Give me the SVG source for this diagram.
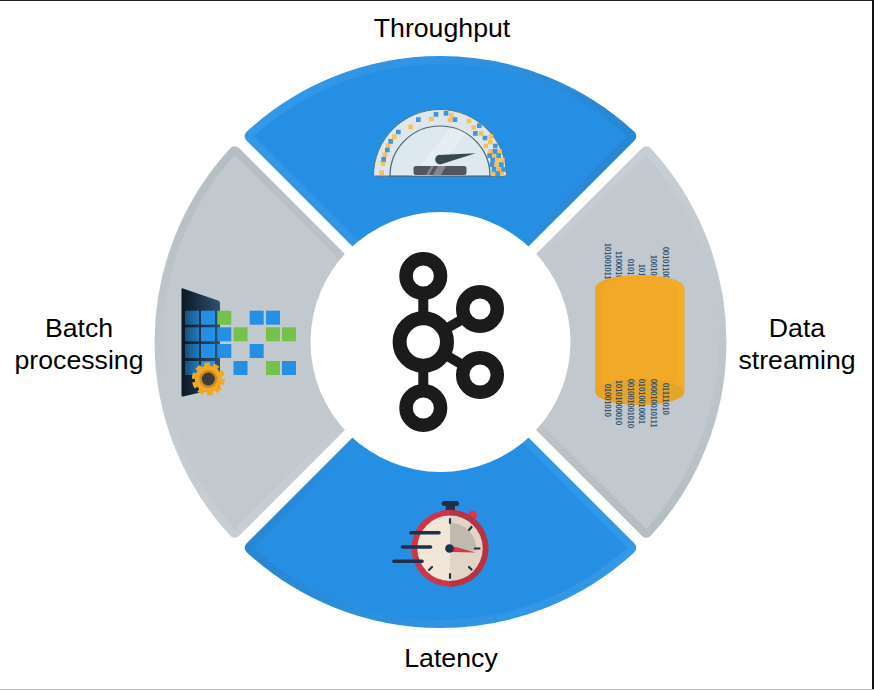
<svg xmlns="http://www.w3.org/2000/svg" width="874" height="690" viewBox="0 0 874 690">
<style>
.lbl{font-family:"Liberation Sans",Arial,sans-serif;font-size:26.7px;fill:#000;text-anchor:middle}
.bin{font-family:"Liberation Serif","Times New Roman",serif;font-size:8.2px;fill:#24466b;stroke:#24466b;stroke-width:.25}
.b{fill:#2590e3}.g{fill:#74c14c}.d{fill:url(#dim)}
.bar{stroke:#1b1b1b;stroke-width:10}
.speed{stroke:#1f3049;stroke-width:3.6;stroke-linecap:round}
.tick{stroke:#1f3049;stroke-width:2.2;stroke-linecap:round}
</style>
<defs>
<path id="rim" d="M440.5 326L250.700 136.200A280 280 0 0 1 630.300 136.200Z" stroke-width="12" stroke-linejoin="round"/>
<path id="core" d="M440.5 323.2L253.6 136.3A278 278 0 0 1 627.4 136.3Z"/>
<linearGradient id="blueRim" gradientUnits="userSpaceOnUse" x1="245" x2="636" y1="0" y2="0"><stop offset="0" stop-color="#3498e7"/><stop offset=".5" stop-color="#2f94e4"/><stop offset="1" stop-color="#2886d2"/></linearGradient>
<linearGradient id="grayRim" gradientUnits="userSpaceOnUse" x1="245" x2="636" y1="0" y2="0"><stop offset="0" stop-color="#c8cfd4"/><stop offset=".5" stop-color="#bfc7cc"/><stop offset="1" stop-color="#b3bdc2"/></linearGradient>
<linearGradient id="panel" x1="0" x2="1" y1="0" y2="0"><stop offset="0" stop-color="#0b1723"/><stop offset="1" stop-color="#2d5274"/></linearGradient>
<linearGradient id="dim" x1="0" x2="1" y1="0" y2="0"><stop offset="0" stop-color="#17507c"/><stop offset="1" stop-color="#1f7cc4"/></linearGradient>
<clipPath id="gaugeClip"><path d="M390 176A50 50 0 0 1 490 176Z"/></clipPath>
</defs>
<rect width="874" height="690" fill="#fff"/>
<g id="frame">
<rect x="0" y="0" width="874" height="1" fill="#222"/>
<rect x="872" y="0" width="2" height="690" fill="#111"/>
<rect x="0" y="689" width="874" height="1" fill="#bbb"/>
</g>
<g id="sector-throughput">
<use href="#rim" fill="url(#blueRim)" stroke="url(#blueRim)"/>
<use href="#core" fill="#2590e3"/>
</g>
<g id="sector-latency" transform="rotate(180 440.5 342)">
<use href="#rim" fill="url(#blueRim)" stroke="url(#blueRim)"/>
<use href="#core" fill="#2590e3"/>
</g>
<g id="sector-streaming" transform="rotate(90 440.5 342)">
<use href="#rim" fill="url(#grayRim)" stroke="url(#grayRim)"/>
<use href="#core" fill="#c1c9cf"/>
</g>
<g id="sector-batch" transform="rotate(-90 440.5 342)">
<use href="#rim" fill="url(#grayRim)" stroke="url(#grayRim)"/>
<use href="#core" fill="#c1c9cf"/>
</g>
<circle id="hub" cx="440.5" cy="342" r="130" fill="#fff"/>
<g id="kafka-logo">
<line class="bar" x1="423.3" y1="276" x2="423.3" y2="408"/>
<line class="bar" x1="423.3" y1="342" x2="480" y2="309"/>
<line class="bar" x1="423.3" y1="342" x2="480" y2="375"/>
<circle cx="423.3" cy="276" r="17.3" fill="#fff" stroke="#1b1b1b" stroke-width="13.5"/>
<circle cx="423.3" cy="342" r="23.7" fill="#fff" stroke="#1b1b1b" stroke-width="14"/>
<circle cx="423.3" cy="408" r="17.3" fill="#fff" stroke="#1b1b1b" stroke-width="13.5"/>
<circle cx="480" cy="309" r="17.3" fill="#fff" stroke="#1b1b1b" stroke-width="13.5"/>
<circle cx="480" cy="375" r="17.3" fill="#fff" stroke="#1b1b1b" stroke-width="13.5"/>
</g>
<g id="gauge-icon">
<path d="M373.5 176A66.5 66.5 0 0 1 506.5 176Z" fill="#dde6ea" stroke="#5a7682" stroke-width="1"/>
<g transform="translate(360 100) scale(.3333)">
<path fill="#f8c05a" d="M58 211h14v14h-14zM62 183h14v14h-14zM68 157h14v14h-14zM78 130h14v14h-14zM96 103h14v14h-14zM145 74h14v14h-14zM207 50h14v14h-14zM267 38h14v14h-14zM263 53h14v14h-14zM320 56h14v14h-14zM334 75h14v14h-14zM356 93h14v14h-14zM386 103h14v14h-14zM384 119h14v14h-14zM370 131h14v14h-14zM385 147h14v14h-14zM411 147h14v14h-14zM395 160h14v14h-14zM405 173h14v14h-14zM420 173h14v14h-14zM403 187h14v14h-14zM410 201h14v14h-14zM393 214h14v14h-14zM418 214h14v14h-14z"/>
<path fill="#3f96dd" d="M64 171h14v14h-14zM75 143h14v14h-14zM85 117h14v14h-14zM108 89h14v14h-14zM168 52h14v14h-14zM221 36h14v14h-14zM251 33h14v14h-14zM278 52h14v14h-14zM351 70h14v14h-14zM339 93h14v14h-14zM368 107h14v14h-14zM399 131h14v14h-14zM398 147h14v14h-14zM382 160h14v14h-14zM409 160h14v14h-14zM391 173h14v14h-14zM389 187h14v14h-14zM417 187h14v14h-14zM395 201h14v14h-14zM424 201h14v14h-14zM406 214h14v14h-14z"/>
</g>
<path d="M390 176A50 50 0 0 1 490 176Z" fill="#dde9ef" stroke="#4a6470" stroke-width="1.2"/>
<g clip-path="url(#gaugeClip)"><path d="M452 126L472 126L432 176L412 176Z" fill="#fff" opacity=".25"/></g>
<rect x="413.5" y="166" width="53" height="9" rx="2.5" fill="#54565e"/>
<path d="M426 175L431 166H434L429 175ZM433 175L438 166H446L441 175Z" fill="#84868e"/>
<path d="M475.7 153.300L438.300 155A4.600 4.600 0 0 0 441.700 164Z" fill="#36494f"/>
</g>
<g id="batch-icon">
<path d="M181.500 289Q181.500 288 183 288.500L218 300.500Q220 301 220 303V386Q220 388 218 388.500L183 396.500Q181.500 397 181.500 395Z" fill="url(#panel)"/>
<rect class="d" x="185" y="310.700" width="14" height="14"/><rect class="b" x="201" y="310.700" width="14" height="14"/><rect class="g" x="217.300" y="310.700" width="14" height="14"/><rect class="b" x="249.700" y="310.700" width="14" height="14"/><rect class="b" x="266" y="310.700" width="14" height="14"/>
<rect class="d" x="185" y="327.300" width="14" height="14"/><rect class="b" x="201" y="327.300" width="14" height="14"/><rect class="b" x="217.300" y="327.300" width="14" height="14"/><rect class="g" x="233.500" y="327.300" width="14" height="14"/><rect class="g" x="266" y="327.300" width="14" height="14"/><rect class="g" x="282" y="327.300" width="14" height="14"/>
<rect class="d" x="185" y="344" width="14" height="14"/><rect class="b" x="201" y="344" width="14" height="14"/><rect class="b" x="217.300" y="344" width="14" height="14"/><rect class="b" x="249.700" y="344" width="14" height="14"/>
<rect class="d" x="185" y="361" width="14" height="14"/><rect class="b" x="201" y="361" width="14" height="14"/><rect class="b" x="233.500" y="361" width="14" height="14"/><rect class="g" x="266" y="361" width="14" height="14"/><rect class="b" x="282" y="361" width="14" height="14"/>
<circle cx="208.300" cy="379" r="13.500" fill="#f3a823"/>
<circle cx="208.300" cy="379" r="14.800" fill="none" stroke="#f3a823" stroke-width="3.400" stroke-dasharray="5.800 3.500"/>
<circle cx="208.300" cy="379" r="9" fill="#c98a1c"/>
<circle cx="208.300" cy="379" r="6.500" fill="#3c3c3e"/>
</g>
<g id="streaming-icon">
<g class="bin">
<text transform="translate(605 243) rotate(90)">101001011</text>
<text transform="translate(616.300 251) rotate(90)">1100010</text>
<text transform="translate(628 259) rotate(90)">0101</text>
<text transform="translate(639.300 264) rotate(90)">101</text>
<text transform="translate(651 255) rotate(90)">10010</text>
<text transform="translate(662.700 247) rotate(90)">00101100</text>
</g>
<path d="M595.300 288A44.500 13 0 0 1 684.300 288V392A44.500 13 0 0 1 595.300 392Z" fill="#f2a928"/>
<path d="M595.300 288A44.500 13 0 0 1 620 276.500Q603 281 603 290V399A44.500 13 0 0 1 595.300 392Z" fill="#eda627"/>
<path d="M684.300 288A44.500 13 0 0 0 660 276.500Q677 281 677 290V399A44.500 13 0 0 0 684.300 392Z" fill="#f3ae29"/>
<ellipse cx="639.800" cy="392" rx="44.500" ry="13" fill="#e5a52d"/>
<g class="bin">
<text transform="translate(605 384) rotate(90)">01001010</text>
<text transform="translate(616.300 380) rotate(90)">10101000010</text>
<text transform="translate(628 379) rotate(90)">001001001010</text>
<text transform="translate(639.300 379) rotate(90)">01010010001</text>
<text transform="translate(651 379) rotate(90)">000010010111</text>
<text transform="translate(662.700 383) rotate(90)">01111010</text>
</g>
</g>
<g id="latency-icon">
<rect x="441.700" y="501" width="17.300" height="5" rx="2.500" fill="#1f3049"/>
<rect x="445.700" y="505" width="9.300" height="6" fill="#1f3049"/>
<circle cx="472.700" cy="515" r="4.500" fill="#d8384c"/>
<circle cx="450" cy="548.300" r="38.500" fill="#d0344a"/>
<path d="M450 509.800A38.500 38.500 0 0 1 450 586.800Z" fill="#b83246"/>
<path d="M450 515.600A32.700 32.700 0 0 0 450 581Z" fill="#f1e6d8"/>
<path d="M450 515.600A32.700 32.700 0 0 1 450 581Z" fill="#e2d5c6"/>
<path d="M450 548.300V523A25.500 25.500 0 0 1 476 551Z" fill="#c0b9ae"/>
<line class="tick" x1="450" y1="519" x2="450" y2="523"/>
<line class="tick" x1="450" y1="574" x2="450" y2="578"/>
<line class="tick" x1="475" y1="548.500" x2="479.500" y2="548.500"/>
<line class="tick" x1="469" y1="530" x2="471.500" y2="527"/>
<line class="tick" x1="469" y1="567" x2="471.500" y2="569.500"/>
<line class="tick" x1="429" y1="570" x2="432" y2="567"/>
<path d="M450 545.500L476 552.500L450 552Z" fill="#d8384c"/>
<circle cx="449.500" cy="548.500" r="4.300" fill="#1f3049"/>
<line class="speed" x1="411" y1="532.700" x2="439" y2="532.700"/>
<line class="speed" x1="402.500" y1="547" x2="430.500" y2="547"/>
<line class="speed" x1="394" y1="561.300" x2="422" y2="561.300"/>
</g>
<g id="labels">
<text class="lbl" x="442" y="37">Throughput</text>
<text class="lbl" x="79" y="337">Batch</text>
<text class="lbl" x="79" y="369">processing</text>
<text class="lbl" x="797" y="337">Data</text>
<text class="lbl" x="797" y="369">streaming</text>
<text class="lbl" x="451" y="667">Latency</text>
</g>
</svg>
